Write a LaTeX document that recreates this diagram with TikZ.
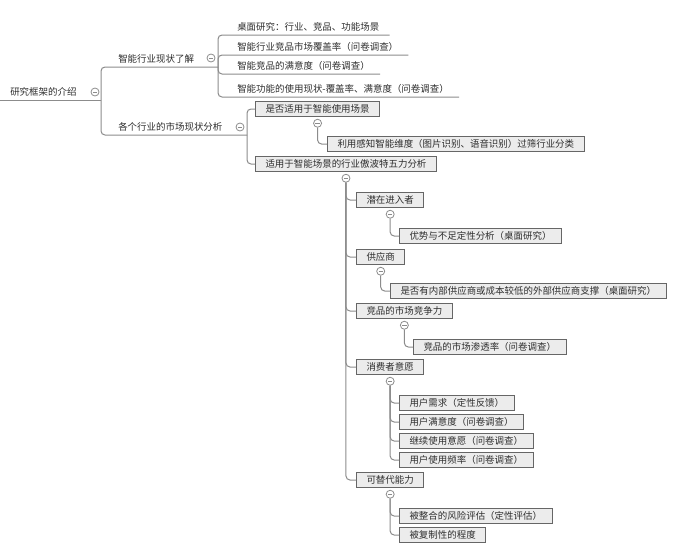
\documentclass[tikz,border=0pt]{standalone}
\usepackage{fontspec}
\newfontfamily\cjk{Noto Sans CJK SC}
\usetikzlibrary{positioning}
\definecolor{ink}{HTML}{2E2E2E}
\definecolor{wire}{HTML}{8C8C8C}
\definecolor{boxline}{HTML}{666666}
\definecolor{paper}{HTML}{ECECEC}

\begin{document}
\begin{tikzpicture}[x=0.75pt,y=-0.75pt,
  font=\cjk\fontsize{7.1}{8.5}\selectfont,text=ink,
  topic/.style={anchor=south west,inner xsep=0pt,inner ysep=2.25pt,
    text height=6pt,text depth=1pt},
  item/.style={draw=boxline,fill=paper,anchor=west,line width=0.75pt,
    inner xsep=7.5pt,inner ysep=2pt,text height=6pt,text depth=1pt},
  fold/.style={circle,draw=wire,fill=white,minimum size=6pt,inner sep=0pt,
    line width=0.6pt,
    path picture={\draw[wire,line width=0.6pt]
      ([xshift=-1.6pt]path picture bounding box.center) --
      ([xshift=1.6pt]path picture bounding box.center);}},
  link/.style={draw=wire,line width=0.75pt,rounded corners=3pt}]
  \useasboundingbox[fill=white] (0,0) rectangle (691,557);

  % Root and its two first-level topics (underlined, no box).
  \node[topic,inner xsep=7.5pt] (root) at (0,100) {研究框架的介绍};
  \coordinate (rootend) at (101,100);
  \draw[link] (root.south west) -- (rootend);
  \node[fold] (rootfold) at (95,92) {};

  \node[topic] (survey) at (118,67) {智能行业现状了解};
  \coordinate (surveyend) at (218,67);
  \draw[link] (rootend) |- (surveyend);
  \node[fold] (surveyfold) at (211,58) {};

  \node[topic] (market) at (118,135) {各个行业的市场现状分析};
  \coordinate (marketend) at (247,135);
  \draw[link] (rootend) |- (marketend);
  \node[fold] (marketfold) at (240,127) {};

  % Desk and survey items of the first topic.
  \node[topic] (desk) at (237,35) {桌面研究：行业、竞品、功能场景};
  \node[topic] (cover) at (237,55) {智能行业竞品市场覆盖率（问卷调查）};
  \node[topic] (satis) at (237,74) {智能竞品的满意度（问卷调查）};
  \node[topic] (usage) at (237,97) {智能功能的使用现状-覆盖率、满意度（问卷调查）};
  \foreach \n in {desk,cover,satis,usage}
    \draw[link] (surveyend) |- ([xshift=7.5pt]\n.south east);

  % Second topic: scene filter and five forces.
  \node[item] (fit) at (255,109) {是否适用于智能使用场景};
  \node[item] (five) at (255,164) {适用于智能场景的行业傲波特五力分析};
  \draw[link] (marketend) |- (fit.west);
  \draw[link] (marketend) |- (five.west);

  \node[fold,below=1.5pt of fit] (fitfold) {};
  \node[item] (sense) at (327,144)
    {利用感知智能维度（图片识别、语音识别）过筛行业分类};
  \draw[link] (fitfold.south) |- (sense.west);

  \node[fold,below=1.5pt of five] (fivefold) {};
  \node[item] (entrant) at (356,200) {潜在进入者};
  \node[item] (supply) at (356,257) {供应商};
  \node[item] (rival) at (356,311) {竞品的市场竞争力};
  \node[item] (will) at (356,367) {消费者意愿};
  \node[item] (subst) at (356,480) {可替代能力};
  \foreach \n in {entrant,supply,rival,will,subst}
    \draw[link] (fivefold.south) |- (\n.west);

  % Leaves of each force.
  \node[fold,below=1.5pt of entrant] (entrantfold) {};
  \node[item] (entrantA) at (399,236) {优势与不足定性分析（桌面研究）};
  \draw[link] (entrantfold.south) |- (entrantA.west);

  \node[fold,below=1.5pt of supply] (supplyfold) {};
  \node[item] (supplyA) at (390,291)
    {是否有内部供应商或成本较低的外部供应商支撑（桌面研究）};
  \draw[link] (supplyfold.south) |- (supplyA.west);

  \node[fold,below=1.5pt of rival] (rivalfold) {};
  \node[item] (rivalA) at (413,347) {竞品的市场渗透率（问卷调查）};
  \draw[link] (rivalfold.south) |- (rivalA.west);

  \node[fold,below=1.5pt of will] (willfold) {};
  \node[item] (willA) at (399,403) {用户需求（定性反馈）};
  \node[item] (willB) at (399,422) {用户满意度（问卷调查）};
  \node[item] (willC) at (399,441) {继续使用意愿（问卷调查）};
  \node[item] (willD) at (399,460) {用户使用频率（问卷调查）};
  \foreach \n in {willA,willB,willC,willD}
    \draw[link] (willfold.south) |- (\n.west);

  \node[fold,below=1.5pt of subst] (substfold) {};
  \node[item] (substA) at (399,516) {被整合的风险评估（定性评估）};
  \node[item] (substB) at (399,535) {被复制性的程度};
  \foreach \n in {substA,substB}
    \draw[link] (substfold.south) |- (\n.west);
\end{tikzpicture}
\end{document}
